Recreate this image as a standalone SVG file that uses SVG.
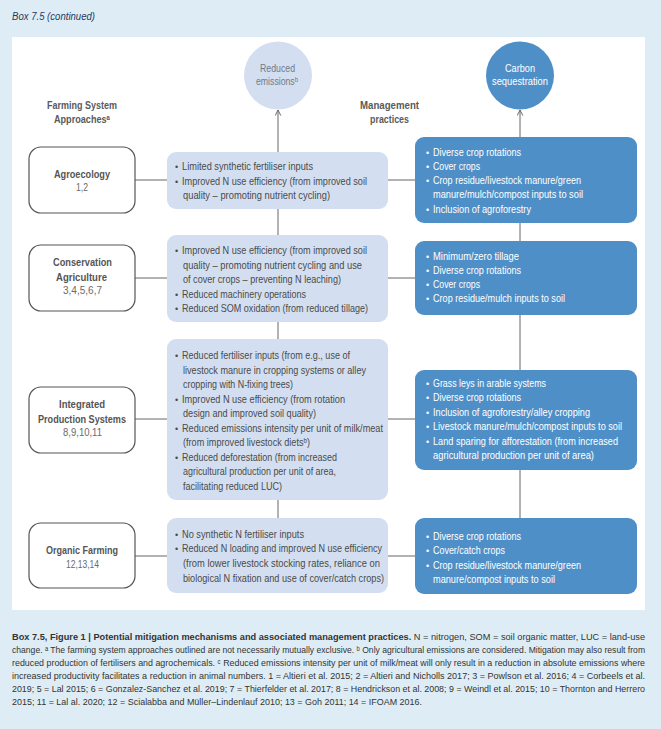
<svg xmlns="http://www.w3.org/2000/svg" width="661" height="729" viewBox="0 0 661 729">
<defs>
<style>
text{font-family:"Liberation Sans",Arial,"DejaVu Sans",sans-serif;}
.hdr{font-size:11px;font-style:italic;fill:#1e3a5f;}
.colh{font-size:11px;font-weight:bold;fill:#5a5a5a;}
.lbox{fill:#ffffff;stroke:#555555;stroke-width:1.2;}
.ltitle{font-size:11px;font-weight:bold;fill:#555555;}
.lnum{font-size:11px;fill:#6a6a6a;}
.mbox{fill:#d3dff0;}
.mtext{font-size:10.5px;fill:#4a4a4a;}
.mbul{font-size:9px;fill:#4a4a4a;}
.rbox{fill:#4f8fc7;}
.rtext{font-size:10.5px;fill:#ffffff;}
.rbul{font-size:9px;fill:#ffffff;}
.conn{stroke:#666666;stroke-width:1;fill:none;}
.cap{font-size:9.6px;fill:#333333;}
</style>
<marker id="arr" viewBox="0 0 10 10" refX="9" refY="5" markerWidth="7" markerHeight="7" orient="auto" markerUnits="userSpaceOnUse">
<path d="M1,1 L9,5 L1,9" fill="none" stroke="#666666" stroke-width="1.4"/>
</marker>
</defs>
<rect x="0" y="0" width="661" height="729" fill="#deedf5"/>
<text class="hdr" x="12" y="20" textLength="83" lengthAdjust="spacingAndGlyphs">Box 7.5 (continued)</text>
<rect x="12" y="37" width="633" height="573" fill="#ffffff"/>

<g id="connectors">
<path class="conn" d="M278,518 L278,110" marker-end="url(#arr)"/>
<path class="conn" d="M520,518 L520,110" marker-end="url(#arr)"/>
<path class="conn" d="M135,180 L415,180"/>
<path class="conn" d="M135,278 L415,278"/>
<path class="conn" d="M135,419 L415,419"/>
<path class="conn" d="M135,556 L415,556"/>
</g>

<g id="reduced-emissions">
<circle cx="278" cy="75.5" r="34" fill="#d3dff0"/>
<text x="260" y="72" font-size="11" fill="#6f7a88" textLength="35" lengthAdjust="spacingAndGlyphs">Reduced</text>
<text x="256" y="85" font-size="11" fill="#6f7a88" textLength="42" lengthAdjust="spacingAndGlyphs">emissionsᵇ</text>
</g>
<g id="carbon-sequestration">
<circle cx="520" cy="75.5" r="34" fill="#4f8fc7"/>
<text x="505" y="72" font-size="11" fill="#ffffff" textLength="30" lengthAdjust="spacingAndGlyphs">Carbon</text>
<text x="492" y="85" font-size="11" fill="#ffffff" textLength="56" lengthAdjust="spacingAndGlyphs">sequestration</text>
</g>

<g id="header-farming">
<text class="colh" x="47" y="109" textLength="70" lengthAdjust="spacingAndGlyphs">Farming System</text>
<text class="colh" x="54" y="123" textLength="56" lengthAdjust="spacingAndGlyphs">Approachesᵃ</text>
</g>
<g id="header-management">
<text class="colh" x="360" y="109" textLength="59" lengthAdjust="spacingAndGlyphs">Management</text>
<text class="colh" x="370" y="123" textLength="39" lengthAdjust="spacingAndGlyphs">practices</text>
</g>

<g id="agroecology">
<rect class="lbox" x="29" y="147" width="106" height="66" rx="12"/>
<text class="ltitle" x="54" y="178" textLength="56" lengthAdjust="spacingAndGlyphs">Agroecology</text>
<text class="lnum" x="76" y="191" textLength="12" lengthAdjust="spacingAndGlyphs">1,2</text>
</g>
<g id="conservation-agriculture">
<rect class="lbox" x="29" y="245" width="106" height="66" rx="12"/>
<text class="ltitle" x="53" y="266" textLength="59" lengthAdjust="spacingAndGlyphs">Conservation</text>
<text class="ltitle" x="56" y="281" textLength="51" lengthAdjust="spacingAndGlyphs">Agriculture</text>
<text class="lnum" x="63" y="294" textLength="39" lengthAdjust="spacingAndGlyphs">3,4,5,6,7</text>
</g>
<g id="integrated-production">
<rect class="lbox" x="29" y="387" width="106" height="66" rx="12"/>
<text class="ltitle" x="59" y="408" textLength="46" lengthAdjust="spacingAndGlyphs">Integrated</text>
<text class="ltitle" x="38" y="423" textLength="88" lengthAdjust="spacingAndGlyphs">Production Systems</text>
<text class="lnum" x="63" y="436" textLength="39" lengthAdjust="spacingAndGlyphs">8,9,10,11</text>
</g>
<g id="organic-farming">
<rect class="lbox" x="29" y="523" width="106" height="65" rx="12"/>
<text class="ltitle" x="46" y="554" textLength="72" lengthAdjust="spacingAndGlyphs">Organic Farming</text>
<text class="lnum" x="66" y="568" textLength="33" lengthAdjust="spacingAndGlyphs">12,13,14</text>
</g>

<g id="mech-agroecology">
<rect class="mbox" x="167" y="152" width="221" height="57" rx="9"/>
<text class="mbul" x="175" y="170">•</text>
<text class="mtext" x="182" y="170" textLength="131" lengthAdjust="spacingAndGlyphs">Limited synthetic fertiliser inputs</text>
<text class="mbul" x="175" y="185">•</text>
<text class="mtext" x="182" y="185" textLength="185" lengthAdjust="spacingAndGlyphs">Improved N use efficiency (from improved soil</text>
<text class="mtext" x="183" y="199" textLength="147" lengthAdjust="spacingAndGlyphs">quality – promoting nutrient cycling)</text>
</g>
<g id="mech-conservation">
<rect class="mbox" x="167" y="235" width="221" height="87" rx="9"/>
<text class="mbul" x="175" y="254">•</text>
<text class="mtext" x="182" y="254" textLength="185" lengthAdjust="spacingAndGlyphs">Improved N use efficiency (from improved soil</text>
<text class="mtext" x="183" y="269" textLength="179" lengthAdjust="spacingAndGlyphs">quality – promoting nutrient cycling and use</text>
<text class="mtext" x="183" y="283" textLength="158" lengthAdjust="spacingAndGlyphs">of cover crops – preventing N leaching)</text>
<text class="mbul" x="175" y="298">•</text>
<text class="mtext" x="182" y="298" textLength="124" lengthAdjust="spacingAndGlyphs">Reduced machinery operations</text>
<text class="mbul" x="175" y="312">•</text>
<text class="mtext" x="182" y="312" textLength="186" lengthAdjust="spacingAndGlyphs">Reduced SOM oxidation (from reduced tillage)</text>
</g>
<g id="mech-integrated">
<rect class="mbox" x="167" y="339" width="221" height="161" rx="9"/>
<text class="mbul" x="175" y="359">•</text>
<text class="mtext" x="182" y="359" textLength="168" lengthAdjust="spacingAndGlyphs">Reduced fertiliser inputs (from e.g., use of</text>
<text class="mtext" x="183" y="373.5" textLength="183" lengthAdjust="spacingAndGlyphs">livestock manure in cropping systems or alley</text>
<text class="mtext" x="183" y="388" textLength="110" lengthAdjust="spacingAndGlyphs">cropping with N-fixing trees)</text>
<text class="mbul" x="175" y="402.5">•</text>
<text class="mtext" x="182" y="402.5" textLength="163" lengthAdjust="spacingAndGlyphs">Improved N use efficiency (from rotation</text>
<text class="mtext" x="183" y="417" textLength="133" lengthAdjust="spacingAndGlyphs">design and improved soil quality)</text>
<text class="mbul" x="175" y="431.5">•</text>
<text class="mtext" x="182" y="431.5" textLength="201" lengthAdjust="spacingAndGlyphs">Reduced emissions intensity per unit of milk/meat</text>
<text class="mtext" x="183" y="446" textLength="127" lengthAdjust="spacingAndGlyphs">(from improved livestock dietsᵇ)</text>
<text class="mbul" x="175" y="460.5">•</text>
<text class="mtext" x="182" y="460.5" textLength="155" lengthAdjust="spacingAndGlyphs">Reduced deforestation (from increased</text>
<text class="mtext" x="183" y="475" textLength="153" lengthAdjust="spacingAndGlyphs">agricultural production per unit of area,</text>
<text class="mtext" x="183" y="489.5" textLength="99" lengthAdjust="spacingAndGlyphs">facilitating reduced LUC)</text>
</g>
<g id="mech-organic">
<rect class="mbox" x="167" y="518" width="221" height="75" rx="9"/>
<text class="mbul" x="175" y="538">•</text>
<text class="mtext" x="182" y="538" textLength="122" lengthAdjust="spacingAndGlyphs">No synthetic N fertiliser inputs</text>
<text class="mbul" x="175" y="552">•</text>
<text class="mtext" x="182" y="552" textLength="200" lengthAdjust="spacingAndGlyphs">Reduced N loading and improved N use efficiency</text>
<text class="mtext" x="183" y="567" textLength="197" lengthAdjust="spacingAndGlyphs">(from lower livestock stocking rates, reliance on</text>
<text class="mtext" x="183" y="582" textLength="201" lengthAdjust="spacingAndGlyphs">biological N fixation and use of cover/catch crops)</text>
</g>

<g id="prac-agroecology">
<rect class="rbox" x="415" y="137" width="222" height="86" rx="9"/>
<text class="rbul" x="426" y="156">•</text>
<text class="rtext" x="433" y="156" textLength="88" lengthAdjust="spacingAndGlyphs">Diverse crop rotations</text>
<text class="rbul" x="426" y="170">•</text>
<text class="rtext" x="433" y="170" textLength="47" lengthAdjust="spacingAndGlyphs">Cover crops</text>
<text class="rbul" x="426" y="184">•</text>
<text class="rtext" x="433" y="184" textLength="148" lengthAdjust="spacingAndGlyphs">Crop residue/livestock manure/green</text>
<text class="rtext" x="433" y="198" textLength="150" lengthAdjust="spacingAndGlyphs">manure/mulch/compost inputs to soil</text>
<text class="rbul" x="426" y="213">•</text>
<text class="rtext" x="433" y="213" textLength="98" lengthAdjust="spacingAndGlyphs">Inclusion of agroforestry</text>
</g>
<g id="prac-conservation">
<rect class="rbox" x="415" y="241" width="222" height="74" rx="9"/>
<text class="rbul" x="426" y="260">•</text>
<text class="rtext" x="433" y="260" textLength="86" lengthAdjust="spacingAndGlyphs">Minimum/zero tillage</text>
<text class="rbul" x="426" y="274">•</text>
<text class="rtext" x="433" y="274" textLength="88" lengthAdjust="spacingAndGlyphs">Diverse crop rotations</text>
<text class="rbul" x="426" y="288">•</text>
<text class="rtext" x="433" y="288" textLength="47" lengthAdjust="spacingAndGlyphs">Cover crops</text>
<text class="rbul" x="426" y="302">•</text>
<text class="rtext" x="433" y="302" textLength="132" lengthAdjust="spacingAndGlyphs">Crop residue/mulch inputs to soil</text>
</g>
<g id="prac-integrated">
<rect class="rbox" x="415" y="370" width="222" height="100" rx="9"/>
<text class="rbul" x="426" y="387">•</text>
<text class="rtext" x="433" y="387" textLength="113" lengthAdjust="spacingAndGlyphs">Grass leys in arable systems</text>
<text class="rbul" x="426" y="401">•</text>
<text class="rtext" x="433" y="401" textLength="88" lengthAdjust="spacingAndGlyphs">Diverse crop rotations</text>
<text class="rbul" x="426" y="416">•</text>
<text class="rtext" x="433" y="416" textLength="157" lengthAdjust="spacingAndGlyphs">Inclusion of agroforestry/alley cropping</text>
<text class="rbul" x="426" y="430">•</text>
<text class="rtext" x="433" y="430" textLength="189" lengthAdjust="spacingAndGlyphs">Livestock manure/mulch/compost inputs to soil</text>
<text class="rbul" x="426" y="445">•</text>
<text class="rtext" x="433" y="445" textLength="185" lengthAdjust="spacingAndGlyphs">Land sparing for afforestation (from increased</text>
<text class="rtext" x="433" y="459" textLength="161" lengthAdjust="spacingAndGlyphs">agricultural production per unit of area)</text>
</g>
<g id="prac-organic">
<rect class="rbox" x="415" y="518" width="222" height="76" rx="9"/>
<text class="rbul" x="426" y="540">•</text>
<text class="rtext" x="433" y="540" textLength="88" lengthAdjust="spacingAndGlyphs">Diverse crop rotations</text>
<text class="rbul" x="426" y="554">•</text>
<text class="rtext" x="433" y="554" textLength="72" lengthAdjust="spacingAndGlyphs">Cover/catch crops</text>
<text class="rbul" x="426" y="569">•</text>
<text class="rtext" x="433" y="569" textLength="148" lengthAdjust="spacingAndGlyphs">Crop residue/livestock manure/green</text>
<text class="rtext" x="433" y="583" textLength="122" lengthAdjust="spacingAndGlyphs">manure/compost inputs to soil</text>
</g>

<g id="caption" transform="translate(12,0) scale(0.82,1)">
<text class="cap" x="0" y="640" textLength="772" lengthAdjust="spacingAndGlyphs"><tspan font-weight="bold">Box 7.5, Figure 1 | Potential mitigation mechanisms and associated management practices.</tspan> N = nitrogen, SOM = soil organic matter, LUC = land-use</text>
<text class="cap" x="0" y="653" textLength="772" lengthAdjust="spacingAndGlyphs">change. ᵃ The farming system approaches outlined are not necessarily mutually exclusive. ᵇ Only agricultural emissions are considered. Mitigation may also result from</text>
<text class="cap" x="0" y="666" textLength="772" lengthAdjust="spacingAndGlyphs">reduced production of fertilisers and agrochemicals. ᶜ Reduced emissions intensity per unit of milk/meat will only result in a reduction in absolute emissions where</text>
<text class="cap" x="0" y="679" textLength="772" lengthAdjust="spacingAndGlyphs">increased productivity facilitates a reduction in animal numbers. 1 = Altieri et al. 2015; 2 = Altieri and Nicholls 2017; 3 = Powlson et al. 2016; 4 = Corbeels et al.</text>
<text class="cap" x="0" y="692" textLength="772" lengthAdjust="spacingAndGlyphs">2019; 5 = Lal 2015; 6 = Gonzalez-Sanchez et al. 2019; 7 = Thierfelder et al. 2017; 8 = Hendrickson et al. 2008; 9 = Weindl et al. 2015; 10 = Thornton and Herrero</text>
<text class="cap" x="0" y="705" textLength="500" lengthAdjust="spacingAndGlyphs">2015; 11 = Lal al. 2020; 12 = Scialabba and Müller–Lindenlauf 2010; 13 = Goh 2011; 14 = IFOAM 2016.</text>
</g>
</svg>
